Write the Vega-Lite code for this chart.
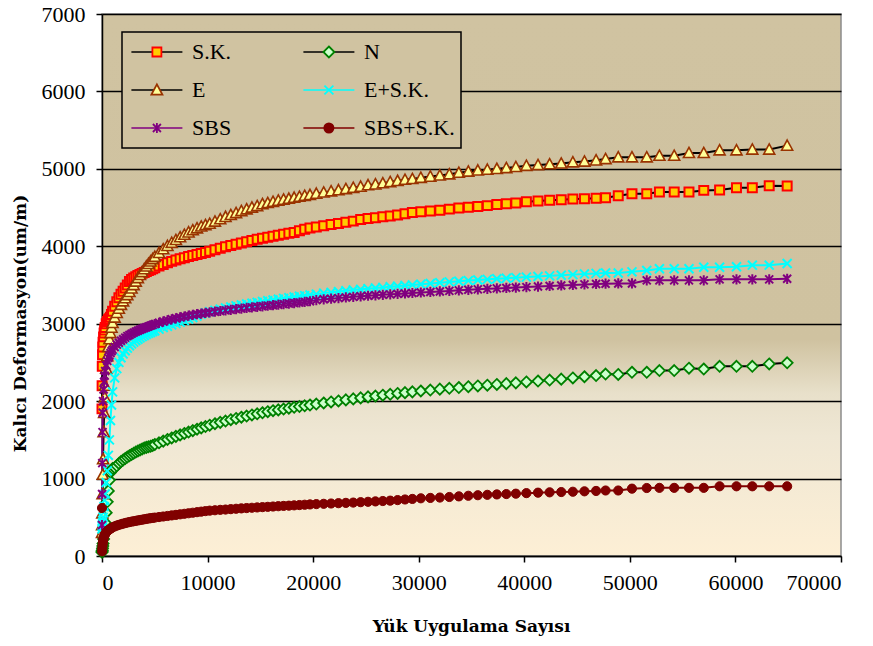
{
  "$schema": "https://vega.github.io/schema/vega-lite/v6.json",
  "width": 739,
  "height": 542,
  "autosize": "none",
  "padding": {"left": 102, "top": 14, "right": 32, "bottom": 90},
  "background": "white",
  "config": {
    "view": {
      "fill": {
        "gradient": "linear", "x1": 0, "y1": 0, "x2": 0, "y2": 1,
        "stops": [
          {"offset": 0, "color": "#d0c3a1"},
          {"offset": 0.6, "color": "#cfc2a0"},
          {"offset": 0.7, "color": "#e8e0ca"},
          {"offset": 0.78, "color": "#efe7d4"},
          {"offset": 1, "color": "#fdefd5"}
        ]
      },
      "stroke": "#8c8c8c",
      "strokeWidth": 1.5
    },
    "axis": {
      "domainColor": "#000000", "domainWidth": 1.5,
      "tickColor": "#000000", "tickWidth": 1.5, "tickSize": 6,
      "labelFont": "Liberation Serif", "labelFontSize": 22, "labelColor": "#000000",
      "titleFont": "DejaVu Serif", "titleFontSize": 17, "titleFontWeight": "bold", "titleColor": "#000000",
      "gridColor": "#000000", "gridWidth": 1.6, "gridOpacity": 1
    },
    "legend": {"strokeWidth": 1.5}
  },
  "data": {
    "values": [
      {"x": 0, "sk": 1900, "n": 50, "e": 300, "esk": 350, "sbs": 400, "sbssk": 620},
      {"x": 10, "sk": 2200, "n": 60, "e": 400, "esk": 380, "sbs": 800, "sbssk": 60},
      {"x": 25, "sk": 2450, "n": 75, "e": 550, "esk": 400, "sbs": 1200, "sbssk": 95},
      {"x": 50, "sk": 2600, "n": 100, "e": 800, "esk": 430, "sbs": 1600, "sbssk": 135},
      {"x": 75, "sk": 2700, "n": 130, "e": 1050, "esk": 460, "sbs": 1850, "sbssk": 170},
      {"x": 100, "sk": 2760, "n": 160, "e": 1250, "esk": 500, "sbs": 2000, "sbssk": 200},
      {"x": 150, "sk": 2830, "n": 220, "e": 1600, "esk": 560, "sbs": 2150, "sbssk": 230},
      {"x": 200, "sk": 2880, "n": 290, "e": 1850, "esk": 640, "sbs": 2250, "sbssk": 255},
      {"x": 250, "sk": 2920, "n": 360, "e": 2050, "esk": 720, "sbs": 2330, "sbssk": 272},
      {"x": 300, "sk": 2950, "n": 430, "e": 2200, "esk": 800, "sbs": 2390, "sbssk": 285},
      {"x": 400, "sk": 3000, "n": 560, "e": 2420, "esk": 950, "sbs": 2460, "sbssk": 305},
      {"x": 500, "sk": 3030, "n": 700, "e": 2580, "esk": 1100, "sbs": 2520, "sbssk": 320},
      {"x": 600, "sk": 3050, "n": 840, "e": 2700, "esk": 1300, "sbs": 2560, "sbssk": 333},
      {"x": 700, "sk": 3065, "n": 980, "e": 2800, "esk": 1500, "sbs": 2590, "sbssk": 344},
      {"x": 800, "sk": 3085, "n": 1080, "e": 2880, "esk": 1750, "sbs": 2620, "sbssk": 353},
      {"x": 900, "sk": 3120, "n": 1110, "e": 2950, "esk": 1950, "sbs": 2645, "sbssk": 362},
      {"x": 1000, "sk": 3160, "n": 1130, "e": 3010, "esk": 2120, "sbs": 2665, "sbssk": 370},
      {"x": 1200, "sk": 3225, "n": 1140, "e": 3080, "esk": 2300, "sbs": 2700, "sbssk": 382},
      {"x": 1400, "sk": 3285, "n": 1165, "e": 3140, "esk": 2420, "sbs": 2730, "sbssk": 393},
      {"x": 1600, "sk": 3335, "n": 1195, "e": 3195, "esk": 2500, "sbs": 2755, "sbssk": 402},
      {"x": 1800, "sk": 3380, "n": 1220, "e": 3245, "esk": 2560, "sbs": 2780, "sbssk": 410},
      {"x": 2000, "sk": 3420, "n": 1240, "e": 3290, "esk": 2610, "sbs": 2800, "sbssk": 418},
      {"x": 2200, "sk": 3460, "n": 1260, "e": 3330, "esk": 2650, "sbs": 2820, "sbssk": 425},
      {"x": 2400, "sk": 3500, "n": 1278, "e": 3370, "esk": 2685, "sbs": 2840, "sbssk": 432},
      {"x": 2600, "sk": 3545, "n": 1295, "e": 3410, "esk": 2715, "sbs": 2855, "sbssk": 438},
      {"x": 2800, "sk": 3570, "n": 1312, "e": 3455, "esk": 2740, "sbs": 2870, "sbssk": 444},
      {"x": 3000, "sk": 3590, "n": 1328, "e": 3500, "esk": 2762, "sbs": 2885, "sbssk": 449},
      {"x": 3200, "sk": 3607, "n": 1343, "e": 3545, "esk": 2782, "sbs": 2898, "sbssk": 454},
      {"x": 3400, "sk": 3622, "n": 1357, "e": 3590, "esk": 2800, "sbs": 2910, "sbssk": 459},
      {"x": 3600, "sk": 3636, "n": 1370, "e": 3630, "esk": 2817, "sbs": 2922, "sbssk": 464},
      {"x": 3800, "sk": 3650, "n": 1383, "e": 3668, "esk": 2833, "sbs": 2933, "sbssk": 469},
      {"x": 4000, "sk": 3662, "n": 1395, "e": 3705, "esk": 2848, "sbs": 2944, "sbssk": 474},
      {"x": 4200, "sk": 3674, "n": 1403, "e": 3740, "esk": 2862, "sbs": 2955, "sbssk": 479},
      {"x": 4400, "sk": 3686, "n": 1410, "e": 3773, "esk": 2875, "sbs": 2965, "sbssk": 484},
      {"x": 4600, "sk": 3698, "n": 1418, "e": 3805, "esk": 2887, "sbs": 2975, "sbssk": 488},
      {"x": 4800, "sk": 3710, "n": 1428, "e": 3835, "esk": 2899, "sbs": 2985, "sbssk": 492},
      {"x": 5000, "sk": 3722, "n": 1440, "e": 3865, "esk": 2910, "sbs": 2995, "sbssk": 496},
      {"x": 5400, "sk": 3745, "n": 1462, "e": 3915, "esk": 2930, "sbs": 3012, "sbssk": 503},
      {"x": 5800, "sk": 3766, "n": 1484, "e": 3962, "esk": 2950, "sbs": 3028, "sbssk": 510},
      {"x": 6200, "sk": 3786, "n": 1505, "e": 4005, "esk": 2968, "sbs": 3043, "sbssk": 517},
      {"x": 6600, "sk": 3805, "n": 1525, "e": 4045, "esk": 2985, "sbs": 3057, "sbssk": 524},
      {"x": 7000, "sk": 3822, "n": 1545, "e": 4082, "esk": 3002, "sbs": 3070, "sbssk": 531},
      {"x": 7400, "sk": 3838, "n": 1564, "e": 4117, "esk": 3020, "sbs": 3082, "sbssk": 538},
      {"x": 7800, "sk": 3853, "n": 1583, "e": 4150, "esk": 3040, "sbs": 3093, "sbssk": 545},
      {"x": 8200, "sk": 3867, "n": 1601, "e": 4180, "esk": 3060, "sbs": 3104, "sbssk": 552},
      {"x": 8600, "sk": 3881, "n": 1619, "e": 4208, "esk": 3080, "sbs": 3114, "sbssk": 559},
      {"x": 9000, "sk": 3895, "n": 1637, "e": 4233, "esk": 3100, "sbs": 3123, "sbssk": 566},
      {"x": 9400, "sk": 3908, "n": 1655, "e": 4256, "esk": 3120, "sbs": 3131, "sbssk": 573},
      {"x": 9800, "sk": 3921, "n": 1672, "e": 4275, "esk": 3138, "sbs": 3139, "sbssk": 580},
      {"x": 10200, "sk": 3935, "n": 1689, "e": 4292, "esk": 3155, "sbs": 3146, "sbssk": 586},
      {"x": 10700, "sk": 3955, "n": 1708, "e": 4320, "esk": 3172, "sbs": 3155, "sbssk": 591},
      {"x": 11200, "sk": 3975, "n": 1726, "e": 4350, "esk": 3188, "sbs": 3164, "sbssk": 596},
      {"x": 11700, "sk": 3993, "n": 1743, "e": 4380, "esk": 3203, "sbs": 3172, "sbssk": 600},
      {"x": 12200, "sk": 4010, "n": 1760, "e": 4405, "esk": 3217, "sbs": 3180, "sbssk": 605},
      {"x": 12700, "sk": 4027, "n": 1776, "e": 4430, "esk": 3230, "sbs": 3188, "sbssk": 610},
      {"x": 13200, "sk": 4043, "n": 1792, "e": 4455, "esk": 3242, "sbs": 3196, "sbssk": 615},
      {"x": 13700, "sk": 4059, "n": 1807, "e": 4478, "esk": 3254, "sbs": 3204, "sbssk": 619},
      {"x": 14200, "sk": 4075, "n": 1822, "e": 4500, "esk": 3265, "sbs": 3211, "sbssk": 623},
      {"x": 14700, "sk": 4090, "n": 1836, "e": 4520, "esk": 3276, "sbs": 3218, "sbssk": 627},
      {"x": 15200, "sk": 4105, "n": 1850, "e": 4545, "esk": 3287, "sbs": 3225, "sbssk": 631},
      {"x": 15700, "sk": 4118, "n": 1864, "e": 4560, "esk": 3297, "sbs": 3232, "sbssk": 635},
      {"x": 16200, "sk": 4131, "n": 1876, "e": 4575, "esk": 3307, "sbs": 3239, "sbssk": 639},
      {"x": 16700, "sk": 4143, "n": 1887, "e": 4590, "esk": 3317, "sbs": 3246, "sbssk": 643},
      {"x": 17200, "sk": 4155, "n": 1898, "e": 4603, "esk": 3327, "sbs": 3253, "sbssk": 647},
      {"x": 17700, "sk": 4167, "n": 1909, "e": 4615, "esk": 3336, "sbs": 3260, "sbssk": 650},
      {"x": 18200, "sk": 4179, "n": 1920, "e": 4628, "esk": 3345, "sbs": 3267, "sbssk": 654},
      {"x": 18700, "sk": 4200, "n": 1930, "e": 4640, "esk": 3354, "sbs": 3274, "sbssk": 658},
      {"x": 19200, "sk": 4220, "n": 1940, "e": 4652, "esk": 3363, "sbs": 3281, "sbssk": 662},
      {"x": 19700, "sk": 4235, "n": 1950, "e": 4664, "esk": 3372, "sbs": 3290, "sbssk": 666},
      {"x": 20300, "sk": 4250, "n": 1962, "e": 4680, "esk": 3382, "sbs": 3305, "sbssk": 670},
      {"x": 21000, "sk": 4265, "n": 1976, "e": 4695, "esk": 3395, "sbs": 3315, "sbssk": 674},
      {"x": 21700, "sk": 4280, "n": 1990, "e": 4710, "esk": 3405, "sbs": 3323, "sbssk": 678},
      {"x": 22400, "sk": 4295, "n": 2003, "e": 4725, "esk": 3415, "sbs": 3331, "sbssk": 682},
      {"x": 23100, "sk": 4310, "n": 2016, "e": 4740, "esk": 3425, "sbs": 3339, "sbssk": 686},
      {"x": 23800, "sk": 4325, "n": 2029, "e": 4755, "esk": 3435, "sbs": 3347, "sbssk": 690},
      {"x": 24500, "sk": 4345, "n": 2042, "e": 4770, "esk": 3444, "sbs": 3354, "sbssk": 695},
      {"x": 25200, "sk": 4360, "n": 2055, "e": 4790, "esk": 3453, "sbs": 3361, "sbssk": 700},
      {"x": 25900, "sk": 4370, "n": 2066, "e": 4800, "esk": 3461, "sbs": 3367, "sbssk": 705},
      {"x": 26600, "sk": 4380, "n": 2077, "e": 4815, "esk": 3469, "sbs": 3373, "sbssk": 710},
      {"x": 27300, "sk": 4390, "n": 2088, "e": 4830, "esk": 3477, "sbs": 3379, "sbssk": 715},
      {"x": 28000, "sk": 4405, "n": 2099, "e": 4845, "esk": 3485, "sbs": 3385, "sbssk": 722},
      {"x": 28700, "sk": 4420, "n": 2110, "e": 4860, "esk": 3493, "sbs": 3391, "sbssk": 730},
      {"x": 29400, "sk": 4435, "n": 2120, "e": 4870, "esk": 3501, "sbs": 3397, "sbssk": 737},
      {"x": 30200, "sk": 4445, "n": 2131, "e": 4885, "esk": 3510, "sbs": 3403, "sbssk": 745},
      {"x": 31100, "sk": 4455, "n": 2143, "e": 4900, "esk": 3520, "sbs": 3410, "sbssk": 750},
      {"x": 32000, "sk": 4465, "n": 2155, "e": 4915, "esk": 3530, "sbs": 3417, "sbssk": 755},
      {"x": 32900, "sk": 4480, "n": 2166, "e": 4930, "esk": 3540, "sbs": 3424, "sbssk": 762},
      {"x": 33800, "sk": 4495, "n": 2176, "e": 4950, "esk": 3549, "sbs": 3431, "sbssk": 770},
      {"x": 34700, "sk": 4505, "n": 2186, "e": 4965, "esk": 3557, "sbs": 3438, "sbssk": 778},
      {"x": 35600, "sk": 4515, "n": 2196, "e": 4980, "esk": 3565, "sbs": 3444, "sbssk": 785},
      {"x": 36500, "sk": 4525, "n": 2206, "e": 4990, "esk": 3573, "sbs": 3450, "sbssk": 790},
      {"x": 37400, "sk": 4540, "n": 2216, "e": 5000, "esk": 3581, "sbs": 3456, "sbssk": 795},
      {"x": 38300, "sk": 4550, "n": 2226, "e": 5010, "esk": 3588, "sbs": 3462, "sbssk": 800},
      {"x": 39200, "sk": 4560, "n": 2236, "e": 5025, "esk": 3595, "sbs": 3467, "sbssk": 805},
      {"x": 40200, "sk": 4575, "n": 2248, "e": 5040, "esk": 3602, "sbs": 3473, "sbssk": 812},
      {"x": 41300, "sk": 4585, "n": 2260, "e": 5050, "esk": 3610, "sbs": 3480, "sbssk": 818},
      {"x": 42400, "sk": 4595, "n": 2272, "e": 5060, "esk": 3618, "sbs": 3487, "sbssk": 822},
      {"x": 43500, "sk": 4600, "n": 2284, "e": 5070, "esk": 3626, "sbs": 3494, "sbssk": 826},
      {"x": 44600, "sk": 4610, "n": 2300, "e": 5085, "esk": 3634, "sbs": 3501, "sbssk": 830},
      {"x": 45700, "sk": 4615, "n": 2315, "e": 5095, "esk": 3643, "sbs": 3508, "sbssk": 835},
      {"x": 46800, "sk": 4620, "n": 2330, "e": 5110, "esk": 3650, "sbs": 3513, "sbssk": 840},
      {"x": 47700, "sk": 4626, "n": 2350, "e": 5127, "esk": 3655, "sbs": 3517, "sbssk": 846},
      {"x": 48900, "sk": 4652, "n": 2345, "e": 5150, "esk": 3655, "sbs": 3520, "sbssk": 846},
      {"x": 50200, "sk": 4678, "n": 2373, "e": 5150, "esk": 3670, "sbs": 3520, "sbssk": 870},
      {"x": 51600, "sk": 4678, "n": 2373, "e": 5150, "esk": 3687, "sbs": 3560, "sbssk": 878},
      {"x": 52800, "sk": 4700, "n": 2395, "e": 5170, "esk": 3709, "sbs": 3560, "sbssk": 880},
      {"x": 54200, "sk": 4700, "n": 2395, "e": 5170, "esk": 3709, "sbs": 3560, "sbssk": 880},
      {"x": 55600, "sk": 4700, "n": 2425, "e": 5205, "esk": 3709, "sbs": 3560, "sbssk": 880},
      {"x": 57000, "sk": 4722, "n": 2415, "e": 5205, "esk": 3730, "sbs": 3560, "sbssk": 880},
      {"x": 58500, "sk": 4726, "n": 2450, "e": 5240, "esk": 3730, "sbs": 3573, "sbssk": 900},
      {"x": 60100, "sk": 4756, "n": 2450, "e": 5240, "esk": 3735, "sbs": 3573, "sbssk": 900},
      {"x": 61600, "sk": 4756, "n": 2450, "e": 5250, "esk": 3756, "sbs": 3573, "sbssk": 900},
      {"x": 63200, "sk": 4783, "n": 2480, "e": 5250, "esk": 3756, "sbs": 3573, "sbssk": 900},
      {"x": 64900, "sk": 4780, "n": 2495, "e": 5300, "esk": 3778, "sbs": 3580, "sbssk": 900}
    ]
  },
  "layer": [
    {
      "transform": [{"fold": ["sk", "n", "e", "esk", "sbs", "sbssk"], "as": ["series", "v"]}],
      "mark": {"type": "line", "strokeWidth": 2},
      "encoding": {
        "x": {
          "field": "x", "type": "quantitative",
          "scale": {"domain": [0, 70000], "nice": false},
          "axis": {
            "values": [0, 10000, 20000, 30000, 40000, 50000, 60000, 70000],
            "format": "d", "grid": false, "labelPadding": 10,
            "title": "Yük Uygulama Sayısı",
            "titleX": 369, "titleY": 70, "titleAlign": "center", "titleBaseline": "middle"
          }
        },
        "y": {
          "field": "v", "type": "quantitative",
          "scale": {"domain": [0, 7000], "nice": false},
          "axis": {
            "values": [0, 1000, 2000, 3000, 4000, 5000, 6000, 7000],
            "format": "d", "grid": true, "labelPadding": 11,
            "title": "Kalıcı Deformasyon(um/m)",
            "titleX": -82, "titleY": 309, "titleAngle": -90, "titleAlign": "center", "titleBaseline": "middle"
          }
        },
        "color": {
          "field": "series", "type": "nominal",
          "scale": {
            "domain": ["sk", "n", "e", "esk", "sbs", "sbssk"],
            "range": ["#000000", "#000000", "#000000", "#00ffff", "#800080", "#800000"]
          },
          "legend": {
            "orient": "none", "legendX": 20, "legendY": 18, "direction": "horizontal", "columns": 2, "title": null,
            "symbolType": "stroke", "symbolSize": 2601, "symbolStrokeWidth": 1.5,
            "clipHeight": 28, "rowPadding": 10, "columnPadding": 68,
            "labelOffset": 8.6, "symbolOffset": 2.4, "padding": 6,
            "fillColor": "#d0c3a1", "strokeColor": "#000000",
            "labelFont": "Liberation Serif", "labelFontSize": 22, "labelColor": "#000000",
            "labelExpr": "{'sk': 'S.K.', 'n': 'N', 'e': 'E', 'esk': 'E+S.K.', 'sbs': 'SBS', 'sbssk': 'SBS+S.K.'}[datum.label]"
          }
        }
      }
    },
    {
      "transform": [{"fold": ["sk", "n", "e", "esk", "sbs", "sbssk"], "as": ["name", "v"]}],
      "encoding": {
        "x": {"field": "x", "type": "quantitative", "scale": {"domain": [0, 70000], "nice": false}},
        "y": {"field": "v", "type": "quantitative", "scale": {"domain": [0, 7000], "nice": false}},
        "shape": {
          "field": "name", "type": "nominal",
          "scale": {
            "domain": ["sk", "n", "e", "esk", "sbs", "sbssk"],
            "range": [
              "M-0.176,-0.176H0.176V0.176H-0.176Z",
              "M0,-0.216L0.216,0L0,0.216L-0.216,0Z",
              "M0,-0.22L0.216,0.18L-0.216,0.18Z",
              "M-0.176,-0.176L0.176,0.176M-0.176,0.176L0.176,-0.176",
              "M-0.157,-0.157L0.157,0.157M-0.157,0.157L0.157,-0.157M0,-0.2L0,0.2",
              "M0.18,0A0.18,0.18,0,1,1,-0.18,0A0.18,0.18,0,1,1,0.18,0Z"
            ]
          },
          "legend": {
            "orient": "none", "legendX": 20, "legendY": 18, "direction": "horizontal", "columns": 2, "title": null,
            "symbolSize": 2601, "symbolStrokeWidth": 1.8, "symbolOpacity": 1,
            "clipHeight": 28, "rowPadding": 10, "columnPadding": 68,
            "labelOffset": 8.6, "symbolOffset": 2.4, "padding": 6,
            "fillColor": null, "strokeColor": null,
            "labelFont": "Liberation Serif", "labelFontSize": 22, "labelColor": "#000000", "labelOpacity": 0,
            "labelExpr": "{'sk': 'S.K.', 'n': 'N', 'e': 'E', 'esk': 'E+S.K.', 'sbs': 'SBS', 'sbssk': 'SBS+S.K.'}[datum.label]"
          }
        },
        "fill": {
          "field": "name", "type": "nominal",
          "scale": {
            "domain": ["sk", "n", "e", "esk", "sbs", "sbssk"],
            "range": ["#ffcc00", "#ccffcc", "#ffff99", "transparent", "transparent", "#800000"]
          },
          "legend": {
            "orient": "none", "legendX": 20, "legendY": 18, "direction": "horizontal", "columns": 2, "title": null,
            "symbolSize": 2601, "symbolStrokeWidth": 1.8, "symbolOpacity": 1,
            "clipHeight": 28, "rowPadding": 10, "columnPadding": 68,
            "labelOffset": 8.6, "symbolOffset": 2.4, "padding": 6,
            "fillColor": null, "strokeColor": null,
            "labelFont": "Liberation Serif", "labelFontSize": 22, "labelColor": "#000000", "labelOpacity": 0,
            "labelExpr": "{'sk': 'S.K.', 'n': 'N', 'e': 'E', 'esk': 'E+S.K.', 'sbs': 'SBS', 'sbssk': 'SBS+S.K.'}[datum.label]"
          }
        },
        "stroke": {
          "field": "name", "type": "nominal",
          "scale": {
            "domain": ["sk", "n", "e", "esk", "sbs", "sbssk"],
            "range": ["#ff0000", "#008000", "#993300", "#00ffff", "#800080", "#800000"]
          },
          "legend": {
            "orient": "none", "legendX": 20, "legendY": 18, "direction": "horizontal", "columns": 2, "title": null,
            "symbolSize": 2601, "symbolStrokeWidth": 1.8, "symbolOpacity": 1,
            "clipHeight": 28, "rowPadding": 10, "columnPadding": 68,
            "labelOffset": 8.6, "symbolOffset": 2.4, "padding": 6,
            "fillColor": null, "strokeColor": null,
            "labelFont": "Liberation Serif", "labelFontSize": 22, "labelColor": "#000000", "labelOpacity": 0,
            "labelExpr": "{'sk': 'S.K.', 'n': 'N', 'e': 'E', 'esk': 'E+S.K.', 'sbs': 'SBS', 'sbssk': 'SBS+S.K.'}[datum.label]"
          }
        }
      },
      "layer": [
        {"transform": [{"filter": "datum.name === 'sk'"}], "mark": {"type": "point", "size": 2601, "strokeWidth": 2, "opacity": 1}},
        {"transform": [{"filter": "datum.name === 'n'"}], "mark": {"type": "point", "size": 2601, "strokeWidth": 1.8, "opacity": 1}},
        {"transform": [{"filter": "datum.name === 'e'"}], "mark": {"type": "point", "size": 2601, "strokeWidth": 1.6, "opacity": 1}},
        {"transform": [{"filter": "datum.name === 'esk'"}], "mark": {"type": "point", "size": 2601, "strokeWidth": 2, "opacity": 1}},
        {"transform": [{"filter": "datum.name === 'sbs'"}], "mark": {"type": "point", "size": 2601, "strokeWidth": 2, "opacity": 1}},
        {"transform": [{"filter": "datum.name === 'sbssk'"}], "mark": {"type": "point", "size": 2601, "strokeWidth": 1, "opacity": 1}}
      ]
    }
  ],
  "resolve": {
    "scale": {"fill": "independent", "stroke": "independent", "shape": "independent"},
    "legend": {"fill": "independent", "stroke": "independent", "shape": "independent"}
  }
}
